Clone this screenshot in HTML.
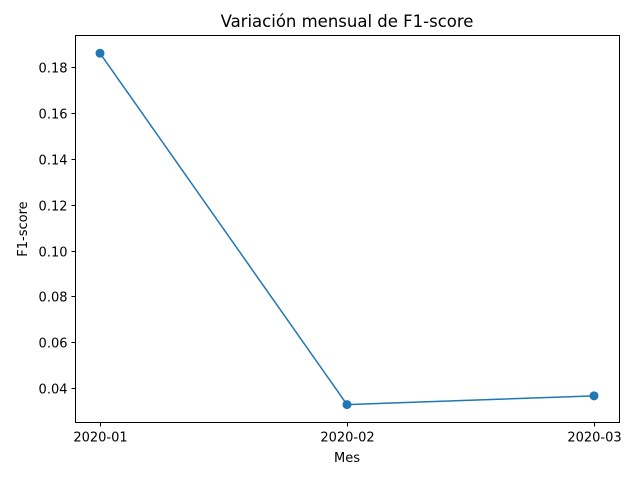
<!DOCTYPE html>
<html><head><meta charset="utf-8"><style>
body{margin:0;background:#fff;}
svg{display:block;font-family:"DejaVu Sans","Liberation Sans",sans-serif;}
</style></head><body>
<svg id="chart" width="640" height="480">
<rect x="0" y="0" width="640" height="480" fill="#fff"/>
<text x="347" y="27" font-size="16.5" text-anchor="middle" fill="#000">Variación mensual de F1-score</text>
<text x="347" y="462" font-size="13" text-anchor="middle">Mes</text>
<text x="27" y="229" font-size="13" text-anchor="middle" transform="rotate(-90 27 229)">F1-score</text>
<g id="xticks"></g>
<g id="yticks"></g>
<g id="series"></g>
<rect x="75.5" y="35.5" width="544" height="387" fill="none" stroke="#000" stroke-width="1"/>
</svg>
<script>
const categories = ["2020-01","2020-02","2020-03"];
const values = [0.1858, 0.0330, 0.0368];
const yTicks = [0.04,0.06,0.08,0.10,0.12,0.14,0.16,0.18];
const yTickLabels = ["0.04","0.06","0.08","0.10","0.12","0.14","0.16","0.18"];
const NS="http://www.w3.org/2000/svg";
const L=75.5,R=619.5,T=35.5,B=422.5;
const yMin=0.0252,yMax=0.1935;
function xs(i){return 100+i*(594-100)/(categories.length-1);}
function ys(v){return B-(v-yMin)/(yMax-yMin)*(B-T);}
function mk(tag,attrs,parent){const e=document.createElementNS(NS,tag);for(const k in attrs)e.setAttribute(k,attrs[k]);parent.appendChild(e);return e;}
const xg=document.getElementById('xticks'),yg=document.getElementById('yticks'),sg=document.getElementById('series');
categories.forEach((c,i)=>{
  const x=Math.round(xs(i))+0.5;
  const t=mk('line',{x1:x,x2:x,y1:B,y2:B+4,stroke:'#000'},xg);
  
  
  const l=mk('text',{x:x,y:B+19,'font-size':13,'text-anchor':'middle'},xg);
  l.textContent=c;
  
  
});
yTicks.forEach((v,i)=>{
  const y=Math.round(ys(v))+0.5;
  const t=mk('line',{x1:L-4,x2:L,y1:y,y2:y,stroke:'#000'},yg);
  
  
  const l=mk('text',{x:L-8,y:y+5,'font-size':13,'text-anchor':'end'},yg);
  l.textContent=yTickLabels[i];
  
  
});
const pts=values.map((v,i)=>xs(i)+','+ys(v)).join(' ');
const pl=mk('polyline',{points:pts,fill:'none',stroke:'#1f77b4','stroke-width':1.5},sg);


values.forEach((v,i)=>{
  const c=mk('circle',{cx:xs(i),cy:ys(v),r:4.5,fill:'#1f77b4'},sg);
  
  
});
</script>
</body></html>
